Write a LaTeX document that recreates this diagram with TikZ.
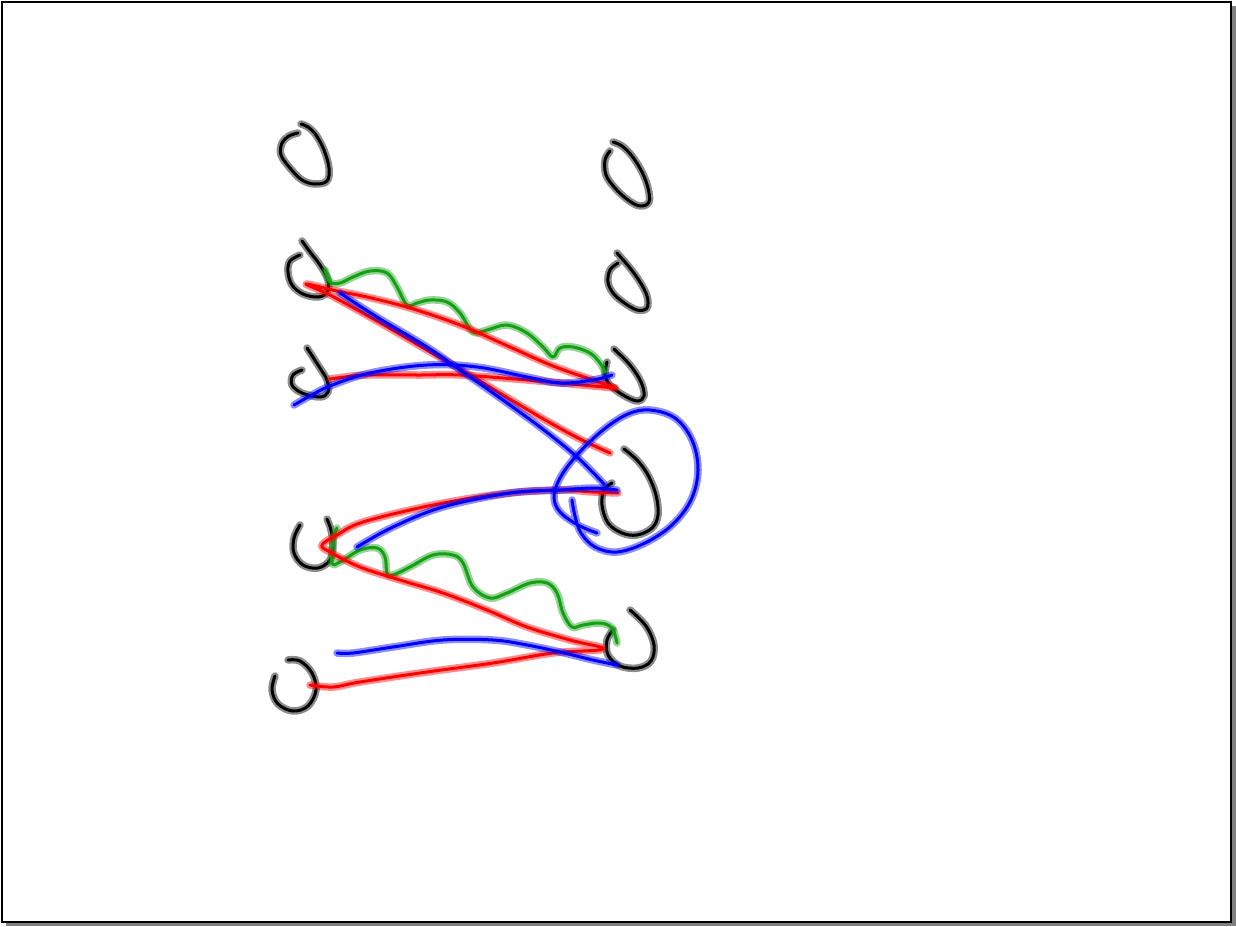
\documentclass[tikz,border=0pt]{standalone}
\definecolor{inkgreen}{RGB}{20,160,20}
\definecolor{shadowgray}{RGB}{128,128,128}
\tikzset{
  halo/.style={line width=7.5pt,opacity=0.45,line cap=round,line join=round},
  core/.style={line width=3pt,line cap=round,line join=round}
}
\newcommand\inkstroke[2]{%
  \draw[#1,halo] plot[smooth,tension=0.6] coordinates {#2};
  \draw[#1,core] plot[smooth,tension=0.6] coordinates {#2};
}
\begin{document}
\begin{tikzpicture}[x=1pt,y=-1pt]
\useasboundingbox (0,0) rectangle (1236,926);
% frame with shadow
\fill[shadowgray] (1231,6) rectangle (1236,926);
\fill[shadowgray] (6,922) rectangle (1236,926);
\draw[black,line width=2pt] (2,2) rectangle (1231,922);
% black glyphs
\inkstroke{black}{(298,133) (289,136) (282,143) (281,155) (290,168) (302,180) (315,184) (327,181) (329,168) (324,150) (316,135) (308,127) (301,124)}
\inkstroke{black}{(610,151) (605,160) (606,175) (615,188) (628,200) (640,206) (649,202) (648,188) (642,172) (632,156) (622,146) (613,142)}
\inkstroke{black}{(300,255) (290,261) (288,272) (292,285) (303,294) (318,297) (327,292) (328,280) (320,265) (310,252) (302,241)}
\inkstroke{black}{(618,263) (610,270) (608,282) (613,293) (623,302) (637,310) (647,308) (647,296) (640,282) (630,268) (617,253)}
\inkstroke{black}{(302,370) (293,375) (292,385) (302,393) (320,397) (328,392) (327,380) (318,365) (307,348)}
\inkstroke{black}{(607,362) (605,375) (610,385) (623,395) (637,401) (644,396) (641,382) (630,365) (614,349)}
\inkstroke{black}{(612,483) (604,490) (602,505) (608,523) (622,533) (637,535) (652,528) (658,515) (656,495) (648,475) (637,460) (624,449)}
\inkstroke{black}{(300,525) (294,538) (294,553) (303,565) (318,568) (330,560) (333,545) (331,530) (327,519)}
\inkstroke{black}{(613,630) (607,640) (608,655) (620,666) (638,668) (651,661) (654,645) (646,626) (630,610)}
\inkstroke{black}{(275,676) (272,690) (278,704) (293,711) (308,706) (316,690) (312,673) (300,661) (288,660)}
% green springs
\inkstroke{inkgreen}{(325,270) (330,282) (340,283) (353,277) (370,271) (387,273) (397,287) (407,305) (417,303) (430,300) (447,302) (460,313) (473,332) (487,330) (507,325) (527,333) (543,347) (553,357) (560,348) (573,347) (590,353) (600,363) (605,372)}
\inkstroke{inkgreen}{(337,528) (333,540) (332,563) (340,562) (360,550) (377,548) (385,557) (387,573) (393,575) (410,567) (433,555) (453,555) (463,563) (473,587) (490,598) (507,593) (530,583) (547,583) (557,593) (563,613) (572,627) (583,625) (600,623) (612,628) (617,643)}
% red strokes
\inkstroke{red}{(615,388) (593,380) (553,366) (510,347) (460,325) (410,308) (367,297) (337,291) (306,284) (330,295) (377,321) (427,350) (465,372) (513,401) (547,421) (580,439) (610,453)}
\inkstroke{red}{(330,379) (345,377) (367,375) (420,375) (460,375) (527,380) (593,386) (615,388)}
\inkstroke{red}{(618,493) (593,492) (560,490) (510,493) (460,500) (410,510) (360,523) (337,535) (322,545) (330,552) (360,567) (400,580) (443,593) (487,610) (527,627) (570,640) (603,649) (553,653) (493,663) (427,672) (360,682) (333,687) (310,685)}
% blue strokes
\inkstroke{blue}{(340,293) (377,317) (427,347) (460,370) (493,393) (540,427) (577,457) (604,484)}
\inkstroke{blue}{(294,405) (310,396) (330,386) (370,373) (427,365) (477,367) (527,377) (560,383) (593,380) (612,375)}
\inkstroke{blue}{(357,547) (393,527) (443,507) (510,493) (560,490) (593,488) (617,490)}
\inkstroke{blue}{(597,533) (578,525) (560,512) (554,497) (560,478) (577,455) (603,430) (628,414) (650,410) (675,418) (692,440) (698,470) (691,500) (672,525) (645,543) (617,552) (595,547) (581,533) (575,516) (572,500)}
\inkstroke{blue}{(337,653) (353,653) (393,647) (443,640) (493,640) (527,645) (560,652) (593,660) (617,665)}
\end{tikzpicture}
\end{document}
